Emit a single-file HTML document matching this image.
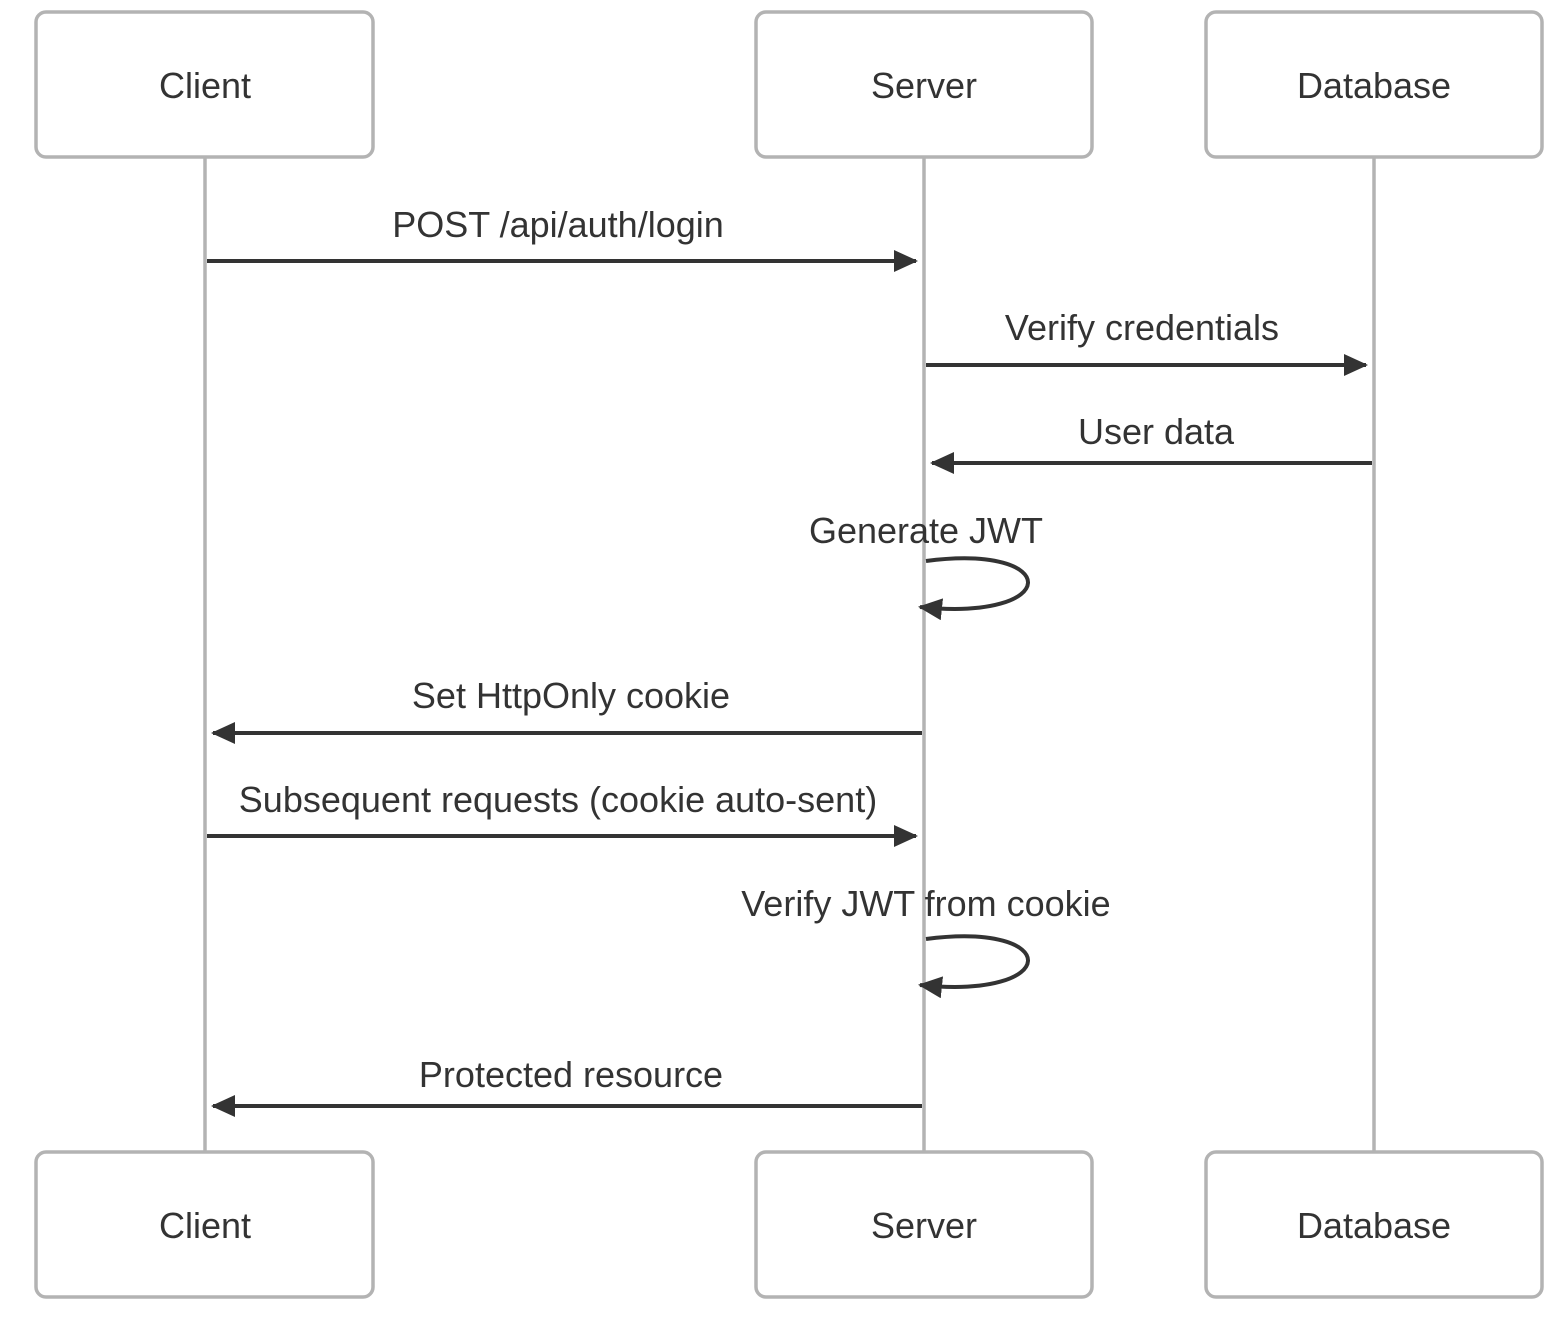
<!DOCTYPE html>
<html><head><style>body{margin:0;background:#fff}</style></head><body>
<svg width="1556" height="1316" xmlns="http://www.w3.org/2000/svg" font-family="Liberation Sans, sans-serif" font-size="36" fill="#333">
<defs><marker id="a" markerWidth="24" markerHeight="22" refX="22" refY="11" orient="auto" markerUnits="userSpaceOnUse"><path d="M0,0 L24,11 L0,22 z" fill="#333"/></marker></defs>
<g stroke="#b3b3b3" stroke-width="3.5" fill="#fff">
<line x1="205" y1="157" x2="205" y2="1152"/><line x1="924" y1="157" x2="924" y2="1152"/><line x1="1374" y1="157" x2="1374" y2="1152"/>
<rect x="36" y="12" width="337" height="145" rx="10"/><rect x="756" y="12" width="336" height="145" rx="10"/><rect x="1206" y="12" width="336" height="145" rx="10"/>
<rect x="36" y="1152" width="337" height="145" rx="10"/><rect x="756" y="1152" width="336" height="145" rx="10"/><rect x="1206" y="1152" width="336" height="145" rx="10"/>
</g>
<g text-anchor="middle">
<text x="205" y="98">Client</text><text x="924" y="98">Server</text><text x="1374" y="98">Database</text>
<text x="205" y="1238">Client</text><text x="924" y="1238">Server</text><text x="1374" y="1238">Database</text>
<text x="558" y="237">POST /api/auth/login</text>
<text x="1142" y="340">Verify credentials</text>
<text x="1156" y="444">User data</text>
<text x="926" y="543">Generate JWT</text>
<text x="571" y="708">Set HttpOnly cookie</text>
<text x="558" y="812">Subsequent requests (cookie auto-sent)</text>
<text x="926" y="916">Verify JWT from cookie</text>
<text x="571" y="1087">Protected resource</text>
</g>
<g stroke="#333" stroke-width="4" fill="none" marker-end="url(#a)">
<line x1="207" y1="261" x2="916" y2="261"/>
<line x1="926" y1="365" x2="1366" y2="365"/>
<line x1="1372" y1="463" x2="932" y2="463"/>
<path d="M926,561 C1063,543 1063,622 920,607"/>
<line x1="922" y1="733" x2="213" y2="733"/>
<line x1="207" y1="836" x2="916" y2="836"/>
<path d="M926,939 C1063,921 1063,1000 920,985"/>
<line x1="922" y1="1106" x2="213" y2="1106"/>
</g>
</svg>
</body></html>
